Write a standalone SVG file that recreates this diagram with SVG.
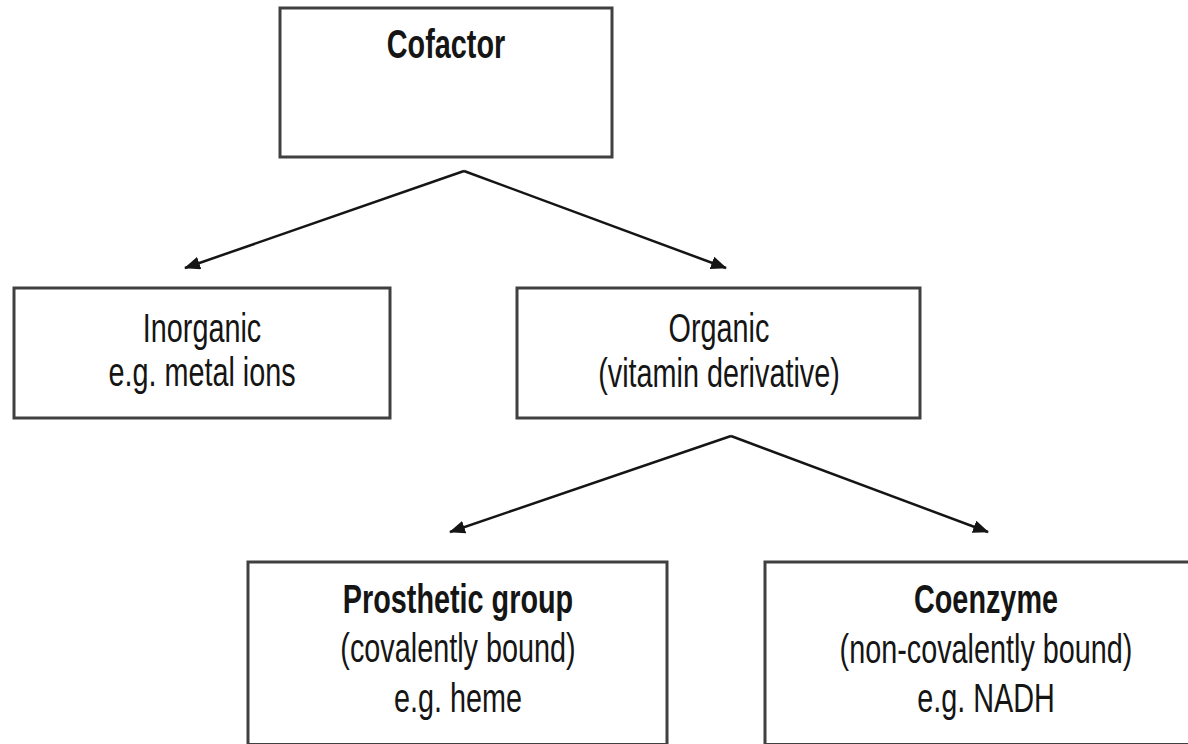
<svg xmlns="http://www.w3.org/2000/svg" width="1188" height="744" viewBox="0 0 1188 744">
<style>
.box{fill:#fff;stroke:#404040;stroke-width:3}
.t{font-family:"Liberation Sans",Arial,sans-serif;font-size:40px;fill:#151515;text-anchor:middle}
.b{font-weight:bold}
.c{stroke:#151515;stroke-width:2.5;fill:none;marker-end:url(#ah)}
</style>
<defs>
<marker id="ah" viewBox="0 0 16 13" refX="15" refY="6.5" markerWidth="16" markerHeight="13" markerUnits="userSpaceOnUse" orient="auto">
<path d="M0,0 L16,6.5 L0,13 z" fill="#151515"/>
</marker>
</defs>
<rect width="1188" height="744" fill="#fff"/>
<g id="connectors">
<path class="c" d="M464,171 L185,268"/>
<path class="c" d="M464,171 L726,268"/>
<path class="c" d="M731,436 L450,532"/>
<path class="c" d="M731,436 L988,532"/>
</g>
<g id="cofactor">
<rect class="box" x="280" y="8" width="332" height="149"/>
<text class="t b" transform="matrix(0.72 0 0 1 446 58)">Cofactor</text>
</g>
<g id="inorganic">
<rect class="box" x="14" y="288" width="376" height="130"/>
<text class="t" transform="matrix(0.72 0 0 1 202 342)">Inorganic</text>
<text class="t" transform="matrix(0.72 0 0 1 202 386)">e.g. metal ions</text>
</g>
<g id="organic">
<rect class="box" x="517" y="288" width="403" height="130"/>
<text class="t" transform="matrix(0.72 0 0 1 719 342)">Organic</text>
<text class="t" transform="matrix(0.72 0 0 1 719 387)">(vitamin derivative)</text>
</g>
<g id="prosthetic">
<rect class="box" x="248" y="562" width="419" height="182.5"/>
<text class="t b" transform="matrix(0.72 0 0 1 458 613)">Prosthetic group</text>
<text class="t" transform="matrix(0.72 0 0 1 458 662)">(covalently bound)</text>
<text class="t" transform="matrix(0.72 0 0 1 458 712)">e.g. heme</text>
</g>
<g id="coenzyme">
<rect class="box" x="765" y="562" width="450" height="182.5"/>
<text class="t b" transform="matrix(0.72 0 0 1 986 613)">Coenzyme</text>
<text class="t" transform="matrix(0.72 0 0 1 986 663)">(non-covalently bound)</text>
<text class="t" transform="matrix(0.72 0 0 1 986 712)">e.g. NADH</text>
</g>
</svg>
